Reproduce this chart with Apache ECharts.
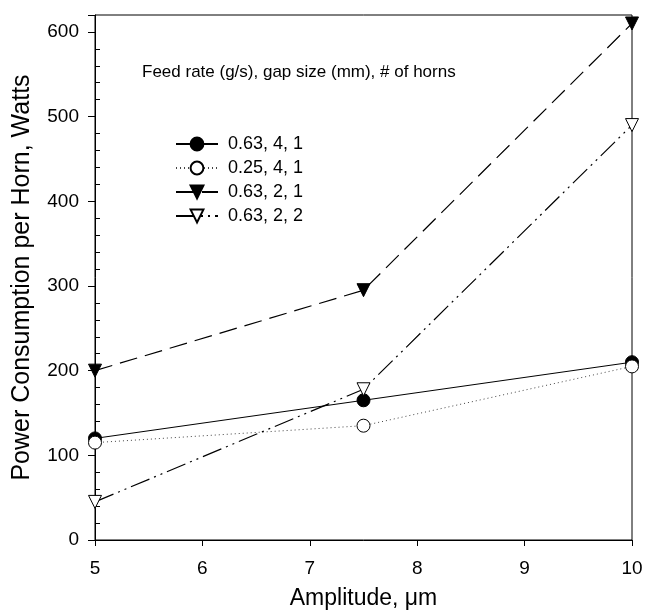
<!DOCTYPE html>
<html>
<head>
<meta charset="utf-8">
<script src="https://cdn.jsdelivr.net/npm/echarts@6/dist/echarts.min.js"></script>
<style>
html,body{margin:0;padding:0;background:#fff;}
#chart{width:646px;height:615px;}
</style>
</head>
<body>
<div id="chart"></div>
<script>
const amplitudes = [5, 7.5, 10];
const s1Name = '0.63, 4, 1';
const s1Values = [120, 165, 210];
const s2Name = '0.25, 4, 1';
const s2Values = [115, 135, 205];
const s3Name = '0.63, 2, 1';
const s3Values = [200, 295, 610];
const s4Name = '0.63, 2, 2';
const s4Values = [45, 178, 490];
const legendTitle = 'Feed rate (g/s), gap size (mm), # of horns';
const xTitle = 'Amplitude, \u03bcm';
const yTitle = 'Power Consumption per Horn, Watts';

const FONT = 'Liberation Sans, Arial, sans-serif';
function pairs(vals){ return amplitudes.map((x,i)=>[x, vals[i]]); }

const chart = echarts.init(document.getElementById('chart'), null, {renderer:'canvas'});
const base = {type:'line', symbolSize:13, z:3};
chart.setOption({
  backgroundColor:'#fff',
  animation:false,
  title:{text:legendTitle, left:142, top:64, padding:0,
    textStyle:{fontFamily:FONT, fontSize:17, fontWeight:'normal', color:'#000'}},
  legend:{
    left:175, top:135, padding:0, orient:'vertical', itemWidth:42, itemHeight:16, itemGap:6,
    textStyle:{fontFamily:FONT, fontSize:18, color:'#000', padding:[0,0,0,5]},
    data:[s1Name, s2Name, s3Name, s4Name]
  },
  grid:{left:95, right:14, top:15, bottom:74, show:true, borderColor:'#000', borderWidth:1, backgroundColor:'transparent'},
  xAxis:{
    type:'value', min:5, max:10, interval:1,
    name:xTitle, nameLocation:'middle', nameGap:47,
    nameTextStyle:{fontFamily:FONT, fontSize:23, color:'#000'},
    axisLine:{lineStyle:{color:'#000', width:1}},
    axisTick:{show:true, length:6, lineStyle:{color:'#000'}},
    axisLabel:{fontFamily:FONT, fontSize:19, color:'#000', margin:19},
    splitLine:{show:false}
  },
  yAxis:[{
    type:'value', min:0, max:620, interval:100, position:'left',
    name:yTitle, nameLocation:'middle', nameGap:60,
    nameTextStyle:{fontFamily:FONT, fontSize:25, color:'#000'},
    axisLine:{show:true, lineStyle:{color:'#000', width:1}},
    axisTick:{show:true, length:7, lineStyle:{color:'#000'}},
    axisLabel:{fontFamily:FONT, fontSize:19, color:'#000', margin:16,
      formatter:function(v){ return v % 100 === 0 && v <= 600 ? String(v) : ''; }},
    splitLine:{show:false}
  },{
    type:'value', min:0, max:620, interval:100, position:'left', offset:0,
    axisLine:{show:false},
    axisTick:{show:false, inside:true},
    minorTick:{show:true, splitNumber:5, length:5, lineStyle:{color:'#000', width:1}},
    axisLabel:{show:false},
    splitLine:{show:false}
  }],
  series:[
    Object.assign({}, base, {name:s1Name, data:pairs(s1Values), symbol:'circle',
      itemStyle:{color:'#000', borderColor:'#000', borderWidth:1},
      lineStyle:{color:'#000', width:1, type:'solid'}}),
    Object.assign({}, base, {name:s2Name, data:pairs(s2Values), symbol:'circle',
      itemStyle:{color:'#fff', borderColor:'#000', borderWidth:1},
      lineStyle:{color:'#444', width:1, type:[1,3]}}),
    Object.assign({}, base, {name:s3Name, data:pairs(s3Values), symbol:'triangle', symbolRotate:180,
      itemStyle:{color:'#000', borderColor:'#000', borderWidth:1},
      lineStyle:{color:'#000', width:1.2, type:[18,8]}}),
    Object.assign({}, base, {name:s4Name, data:pairs(s4Values), symbol:'triangle', symbolRotate:180,
      itemStyle:{color:'#fff', borderColor:'#000', borderWidth:1},
      lineStyle:{color:'#000', width:1.2, type:[20,5,2,5,2,5]}})
  ]
});
</script>
</body>
</html>
